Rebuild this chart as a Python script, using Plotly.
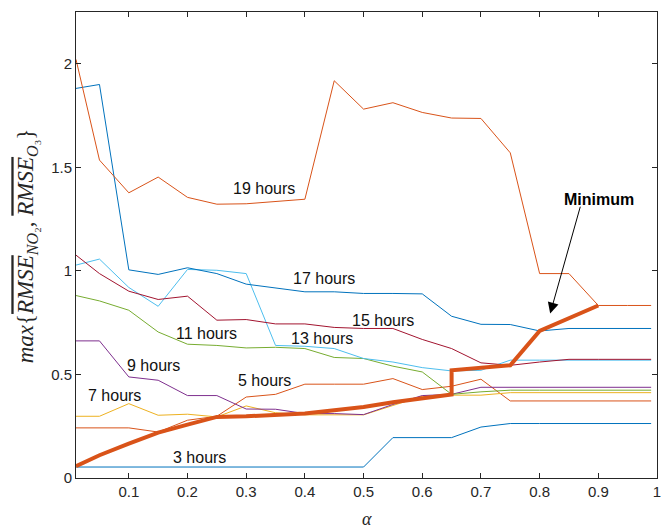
import plotly.graph_objects as go

# Weighting factor alpha and the per-horizon error curves
alpha = [0.01, 0.05, 0.10, 0.15, 0.20, 0.25, 0.30, 0.35, 0.40, 0.45, 0.50,
         0.55, 0.60, 0.65, 0.70, 0.75, 0.80, 0.85, 0.90, 0.95, 0.99]

h3 = [0.053, 0.053, 0.053, 0.053, 0.053, 0.053, 0.053, 0.053, 0.053, 0.053, 0.053,
      0.195, 0.195, 0.195, 0.246, 0.263, 0.263, 0.263, 0.263, 0.263, 0.263]
h5 = [0.242, 0.242, 0.242, 0.222, 0.279, 0.298, 0.391, 0.404, 0.453, 0.453, 0.453,
      0.480, 0.427, 0.443, 0.477, 0.372, 0.372, 0.372, 0.372, 0.372, 0.372]
h7 = [0.298, 0.298, 0.359, 0.303, 0.308, 0.295, 0.348, 0.315, 0.305, 0.305, 0.305,
      0.350, 0.395, 0.400, 0.400, 0.412, 0.412, 0.412, 0.412, 0.412, 0.412]
h9 = [0.662, 0.662, 0.488, 0.472, 0.398, 0.398, 0.333, 0.332, 0.311, 0.311, 0.306,
      0.355, 0.398, 0.404, 0.438, 0.438, 0.438, 0.438, 0.438, 0.438, 0.438]
h11 = [0.881, 0.855, 0.810, 0.705, 0.646, 0.640, 0.628, 0.631, 0.625, 0.582, 0.577,
       0.540, 0.512, 0.404, 0.416, 0.424, 0.424, 0.424, 0.424, 0.424, 0.424]
h13 = [1.028, 1.057, 0.920, 0.829, 1.007, 1.003, 0.987, 0.640, 0.636, 0.625, 0.577,
       0.560, 0.533, 0.517, 0.520, 0.569, 0.569, 0.569, 0.569, 0.569, 0.569]
h15 = [1.076, 0.987, 0.902, 0.862, 0.878, 0.762, 0.765, 0.744, 0.744, 0.727, 0.722,
       0.722, 0.669, 0.625, 0.556, 0.544, 0.560, 0.573, 0.573, 0.573, 0.573]
h17 = [1.881, 1.900, 1.005, 0.983, 1.015, 0.987, 0.936, 0.916, 0.899, 0.899, 0.891,
       0.891, 0.889, 0.781, 0.742, 0.741, 0.710, 0.722, 0.722, 0.722, 0.722]
h19 = [2.021, 1.535, 1.377, 1.453, 1.355, 1.322, 1.324, 1.334, 1.346, 1.918, 1.781,
       1.812, 1.765, 1.738, 1.736, 1.570, 0.987, 0.987, 0.833, 0.833, 0.833]

# Minimum envelope (jumps at alpha = 0.65)
alpha_min = [0.01, 0.05, 0.10, 0.15, 0.20, 0.25, 0.30, 0.35, 0.40, 0.45, 0.50,
             0.55, 0.60, 0.65, 0.65, 0.70, 0.75, 0.80, 0.85, 0.90]
minimum = [0.057, 0.110, 0.166, 0.219, 0.258, 0.295, 0.298, 0.303, 0.311, 0.327, 0.343,
           0.366, 0.386, 0.403, 0.520, 0.531, 0.544, 0.710, 0.772, 0.833]

series = [
    ("3 hours", h3, "#0072BD", 0.220, 0.097),
    ("5 hours", h5, "#D95319", 0.331, 0.472),
    ("7 hours", h7, "#EDB120", 0.075, 0.396),
    ("9 hours", h9, "#7E2F8E", 0.142, 0.544),
    ("11 hours", h11, "#77AC30", 0.233, 0.697),
    ("13 hours", h13, "#4DBEEE", 0.430, 0.673),
    ("15 hours", h15, "#A2142F", 0.533, 0.762),
    ("17 hours", h17, "#0072BD", 0.432, 0.963),
    ("19 hours", h19, "#D95319", 0.330, 1.398),
]

x_ticks = [0.1, 0.2, 0.3, 0.4, 0.5, 0.6, 0.7, 0.8, 0.9, 1.0]
x_ticktext = ["0.1", "0.2", "0.3", "0.4", "0.5", "0.6", "0.7", "0.8", "0.9", "1"]
y_ticks = [0, 0.5, 1, 1.5, 2]
y_ticktext = ["0", "0.5", "1", "1.5", "2"]

W, H = 662, 531
ML, MR, MT, MB = 76, 1, 12, 53
pw, ph = W - ML - MR, H - MT - MB

fig = go.Figure()
annotations = []
for name, vals, color, lx, ly in series:
    fig.add_trace(go.Scatter(x=alpha, y=vals, mode="lines", name=name,
                             line=dict(color=color, width=1)))
    annotations.append(dict(x=lx, y=ly, xref="x", yref="y", text=name,
                            showarrow=False, xanchor="center", yanchor="middle",
                            font=dict(family="Liberation Sans, Arial", size=16, color="#111111")))

fig.add_trace(go.Scatter(x=alpha_min, y=minimum, mode="lines", name="Minimum",
                         line=dict(color="#D95319", width=4)))

annotations.append(dict(x=0.901, y=1.346, xref="x", yref="y", text="<b>Minimum</b>",
                        showarrow=False, xanchor="center", yanchor="middle",
                        font=dict(family="Liberation Sans, Arial", size=16, color="black")))
annotations.append(dict(x=0.818, y=0.794, xref="x", yref="y", ax=0.870, ay=1.317,
                        axref="x", ayref="y", text="", showarrow=True,
                        arrowhead=2, arrowsize=2.2, arrowwidth=1, arrowcolor="black"))

ol = "<span style='text-decoration:overline'><i>RMSE</i></span>"
ylabel = ("<i>max</i>{" + ol + "<sub><i>NO</i>₂</sub>, " + ol + "<sub><i>O</i>₃</sub>}")
annotations.append(dict(x=(27 - ML) / pw, y=(H - MB - 246) / ph,
                        xref="paper", yref="paper", text=ylabel,
                        showarrow=False, textangle=-90, xanchor="center", yanchor="middle",
                        font=dict(family="Liberation Serif, DejaVu Serif", size=23, color="#262626")))
annotations.append(dict(x=0.5, y=(H - MB - 519) / ph, xref="paper", yref="paper",
                        text="<i>α</i>", showarrow=False, xanchor="center", yanchor="middle",
                        font=dict(family="Liberation Serif, DejaVu Serif", size=18, color="#262626")))

axis_common = dict(showline=True, linecolor="#262626", linewidth=1, mirror="ticks",
                   ticks="inside", ticklen=5, tickcolor="#262626", showgrid=False,
                   zeroline=False, ticklabeloverflow="allow",
                   tickfont=dict(family="Liberation Sans, Arial", size=15, color="#262626"))

fig.update_layout(
    width=W, height=H,
    margin=dict(l=ML, r=MR, t=MT, b=MB),
    paper_bgcolor="white", plot_bgcolor="white",
    showlegend=False,
    xaxis=dict(range=[0.01, 1.0], tickvals=x_ticks, ticktext=x_ticktext, **axis_common),
    yaxis=dict(range=[0, 2.25], tickvals=y_ticks, ticktext=y_ticktext, **axis_common),
    annotations=annotations,
)

fig.write_html("out.html")
